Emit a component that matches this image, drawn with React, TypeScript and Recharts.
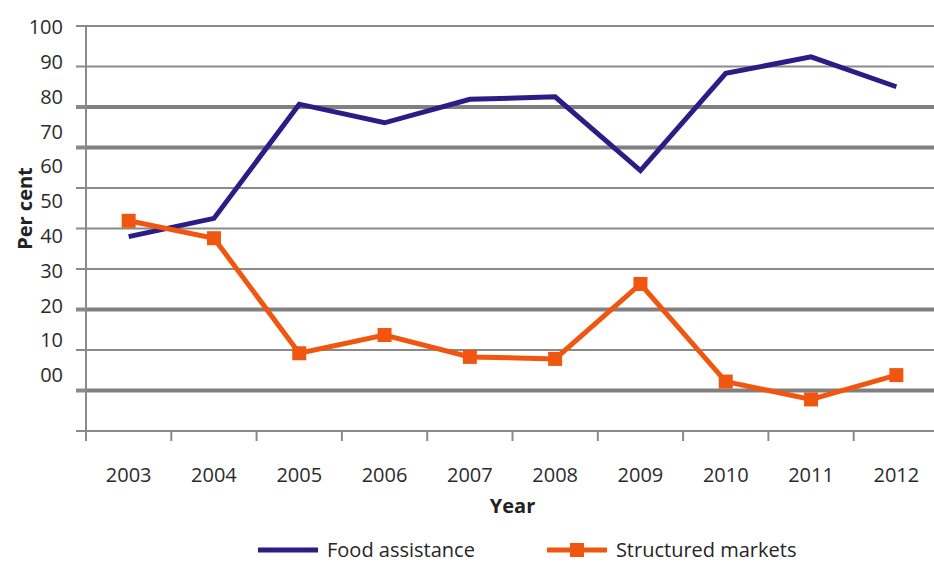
import React from 'react';
import {
  LineChart,
  Line,
  XAxis,
  YAxis,
  CartesianGrid,
  ReferenceLine,
  Legend,
} from 'recharts';

// Survey years and the two shares (per cent) plotted against the grid scale
const years = ['2003', '2004', '2005', '2006', '2007', '2008', '2009', '2010', '2011', '2012'];
const foodAssistance = [48, 52.5, 80.7, 76.1, 81.9, 82.5, 64.3, 88.3, 92.4, 85.0];
const structuredMarkets = [51.9, 47.6, 19.2, 23.7, 18.3, 17.8, 36.3, 12.2, 7.8, 13.8];

// Grid levels (one line every 10) and the levels drawn with a heavier rule
const gridLevels = [0, 10, 20, 30, 40, 50, 60, 70, 80, 90, 100];
const heavyLevels = [80, 70, 30, 10];

// Printed axis labels and the range they are spread over
const labelTicks = [0, 10, 20, 30, 40, 50, 60, 70, 80, 90, 100];
const labelDomain: [number, number] = [-16.09, 100.29];

const data = years.map((year, i) => ({
  year,
  food: foodAssistance[i],
  structured: structuredMarkets[i],
}));

const VALUE_AXIS = 'a-value';
const LABEL_AXIS = 'b-label';

const NAVY = '#2a1d85';
const ORANGE = '#f0560f';
const GRID = '#8a8a8a';
const TEXT = '#2b2b2b';
const FONT = '"Open Sans", "DejaVu Sans", sans-serif';
const FONT_SIZE = 20;

const X_TICK_MARGIN = 37;
const TICK_LEN = 10;

// Year labels sit mid-category; tick marks fall on category boundaries
const YearTick = (props: any) => {
  const { x, y, payload, index, visibleTicksCount } = props;
  const half = payload && payload.offset ? payload.offset : 0;
  const top = y - X_TICK_MARGIN;
  const isLast = index === visibleTicksCount - 1;
  return (
    <g>
      <line x1={x - half} x2={x - half} y1={top} y2={top + TICK_LEN} stroke={GRID} strokeWidth={2} />
      {isLast && (
        <line x1={x + half} x2={x + half} y1={top} y2={top + TICK_LEN} stroke={GRID} strokeWidth={2} />
      )}
      <text x={x} y={y} dy="0.71em" textAnchor="middle" fill={TEXT} fontSize={FONT_SIZE} fontFamily={FONT}>
        {payload.value}
      </text>
    </g>
  );
};

// Short outward tick on the value axis, heavier where the grid rule is heavier
const LevelTick = (props: any) => {
  const { x, y, payload } = props;
  const heavy = heavyLevels.includes(payload.value);
  return (
    <line x1={x} x2={x + TICK_LEN} y1={y} y2={y} stroke={GRID} strokeWidth={heavy ? 4 : 2} />
  );
};

const SquareDot = (props: any) => {
  const { cx, cy, index } = props;
  if (cx == null || cy == null) return null;
  return <rect key={`sq-${index}`} x={cx - 7} y={cy - 7} width={14} height={14} fill={ORANGE} />;
};

const PerCentLabel = (props: any) => {
  const vb = props.viewBox || {};
  const cx = (vb.x || 0) + 24;
  const cy = (vb.y || 0) + (vb.height || 0) / 2 - 20;
  return (
    <text
      x={cx}
      y={cy}
      transform={`rotate(-90, ${cx}, ${cy})`}
      textAnchor="middle"
      dominantBaseline="central"
      fill="#222"
      fontSize={FONT_SIZE}
      fontWeight={700}
      fontFamily={FONT}
    >
      Per cent
    </text>
  );
};

const LegendContent = (props: any) => {
  const payload = props.payload || [];
  return (
    <div
      style={{
        display: 'flex',
        alignItems: 'center',
        paddingLeft: 258,
        paddingTop: 16,
        fontFamily: FONT,
        fontSize: FONT_SIZE,
        color: '#262626',
        lineHeight: '26px',
      }}
    >
      {payload.map((entry: any, i: number) => (
        <div key={entry.value} style={{ display: 'flex', alignItems: 'center', marginLeft: i === 0 ? 0 : 72 }}>
          <svg width={60} height={26} style={{ marginRight: 9 }}>
            <line x1={0} x2={60} y1={13} y2={13} stroke={entry.color} strokeWidth={5} strokeLinecap="round" />
            {entry.dataKey === 'structured' && <rect x={23} y={6} width={14} height={14} fill={entry.color} />}
          </svg>
          <span>{entry.value}</span>
        </div>
      ))}
    </div>
  );
};

export default function App() {
  return (
    <div
      style={{
        position: 'absolute',
        left: 0,
        top: 0,
        width: 934,
        height: 563,
        overflow: 'hidden',
        background: '#ffffff',
        fontFamily: FONT,
      }}
    >
      <LineChart width={945} height={563} data={data} margin={{ top: 26, right: 6, bottom: 0, left: 0 }}>
        <CartesianGrid yAxisId={VALUE_AXIS} vertical={false} stroke={GRID} strokeWidth={2} />
        <XAxis
          dataKey="year"
          scale="band"
          interval={0}
          height={90}
          axisLine={false}
          tickLine={false}
          tickSize={0}
          tickMargin={X_TICK_MARGIN}
          tick={<YearTick />}
          label={{
            value: 'Year',
            position: 'insideBottom',
            offset: 8,
            fill: '#222',
            fontSize: FONT_SIZE,
            fontWeight: 700,
            fontFamily: FONT,
          }}
        />
        <YAxis
          yAxisId={VALUE_AXIS}
          orientation="left"
          type="number"
          domain={[0, 100]}
          ticks={gridLevels}
          interval={0}
          width={10}
          tickLine={false}
          tickSize={0}
          tickMargin={10}
          tick={<LevelTick />}
          axisLine={{ stroke: GRID, strokeWidth: 2 }}
        />
        <YAxis
          yAxisId={LABEL_AXIS}
          orientation="left"
          type="number"
          domain={labelDomain}
          allowDataOverflow
          ticks={labelTicks}
          interval={0}
          width={76}
          axisLine={false}
          tickLine={false}
          tickSize={0}
          tickMargin={13}
          tick={{ fill: TEXT, fontSize: FONT_SIZE, fontFamily: FONT }}
          tickFormatter={(v: number) => (v === 0 ? '00' : String(v))}
          label={<PerCentLabel />}
        />
        {heavyLevels.map((lv) => (
          <ReferenceLine key={lv} yAxisId={VALUE_AXIS} y={lv} stroke="#808080" strokeWidth={4} />
        ))}
        <Line
          yAxisId={VALUE_AXIS}
          type="linear"
          dataKey="food"
          name="Food assistance"
          stroke={NAVY}
          strokeWidth={5}
          dot={false}
          activeDot={false}
          isAnimationActive={false}
        />
        <Line
          yAxisId={VALUE_AXIS}
          type="linear"
          dataKey="structured"
          name="Structured markets"
          stroke={ORANGE}
          strokeWidth={5}
          dot={<SquareDot />}
          activeDot={false}
          isAnimationActive={false}
        />
        <Legend verticalAlign="bottom" height={42} wrapperStyle={{ left: 0, width: 945 }} content={<LegendContent />} />
      </LineChart>
    </div>
  );
}
